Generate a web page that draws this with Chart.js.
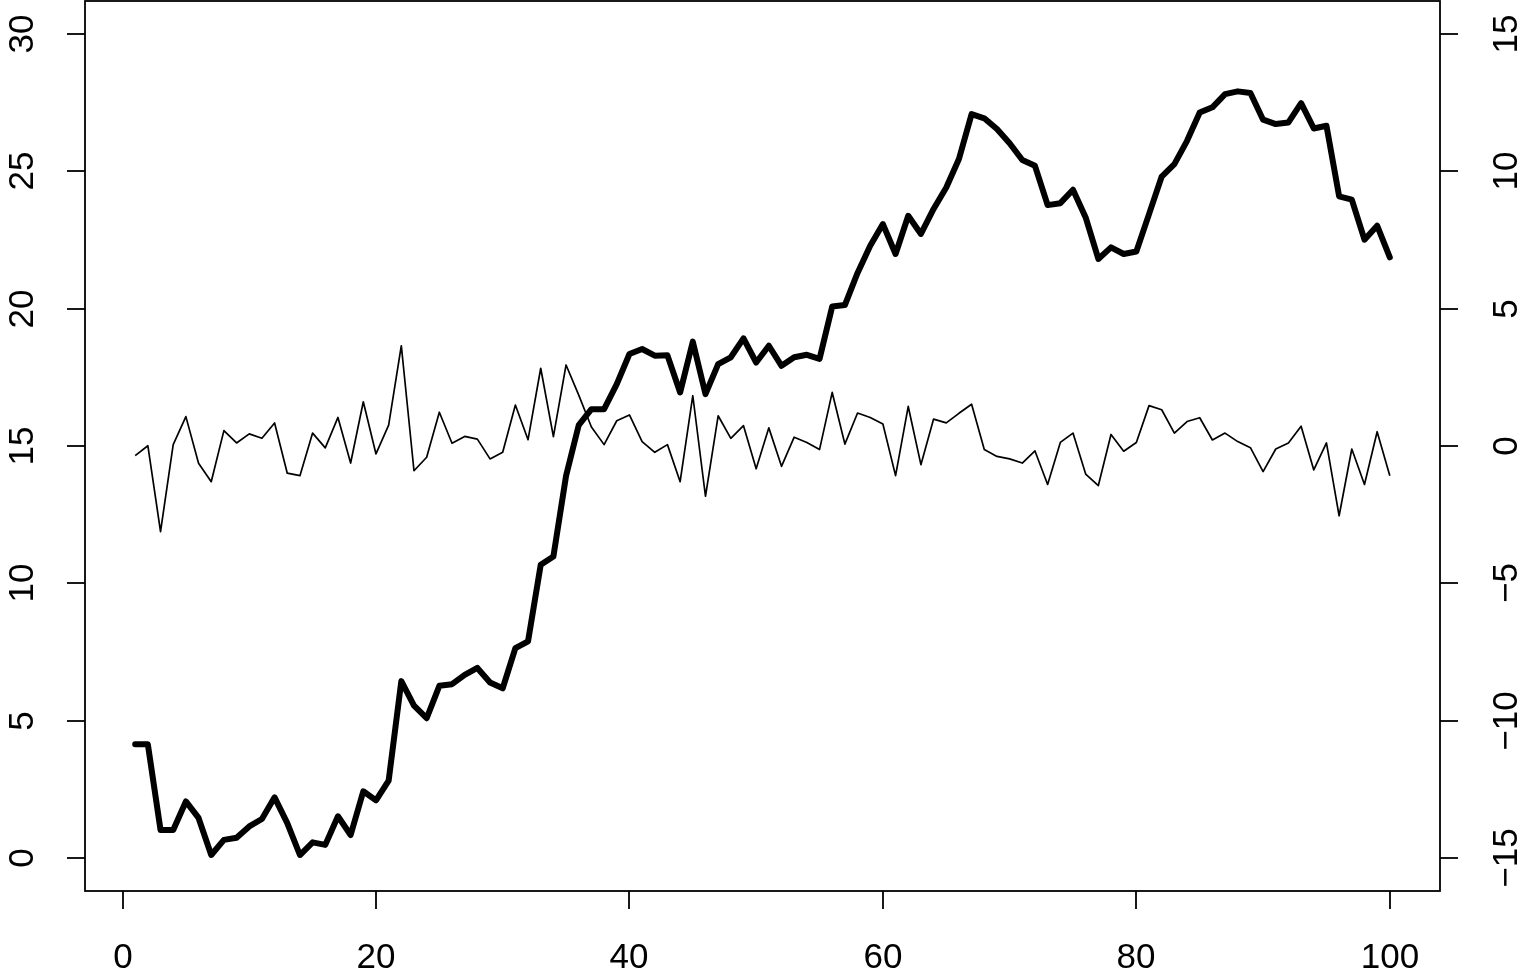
<!DOCTYPE html>
<html lang="en">
<head>
    <meta charset="UTF-8">
    <title>Two series, two axes</title>
    <script src="https://cdn.jsdelivr.net/npm/chart.js"></script>
    <style>
        html, body { margin: 0; padding: 0; background: #fff; }
        canvas { display: block; }
    </style>
</head>
<body>
    <canvas id="plot" width="1522" height="975"></canvas>

    <script>
        // x positions of the observations
        const idx = Array.from({ length: 100 }, (_, i) => i + 1);

        // thick series, read against the left axis
        const thickValues = [
            4.14, 4.14, 1.02, 1.02, 2.06, 1.46, 0.11, 0.66, 0.74, 1.15,
            1.42, 2.21, 1.27, 0.11, 0.57, 0.48, 1.52, 0.84, 2.43, 2.10,
            2.82, 6.44, 5.55, 5.09, 6.27, 6.33, 6.67, 6.92, 6.39, 6.18,
            7.64, 7.89, 10.68, 10.98, 13.92, 15.76, 16.34, 16.34, 17.25, 18.35,
            18.53, 18.29, 18.30, 16.95, 18.80, 16.89, 17.98, 18.23, 18.92, 18.04,
            18.65, 17.92, 18.23, 18.32, 18.17, 20.08, 20.13, 21.30, 22.29, 23.08,
            21.99, 23.38, 22.72, 23.63, 24.41, 25.45, 27.08, 26.93, 26.54, 26.02,
            25.41, 25.20, 23.77, 23.84, 24.33, 23.32, 21.81, 22.23, 21.99, 22.08,
            23.44, 24.81, 25.26, 26.11, 27.14, 27.33, 27.81, 27.91, 27.85, 26.88,
            26.72, 26.78, 27.48, 26.56, 26.66, 24.09, 23.97, 22.51, 23.02, 21.87
        ];

        // thin series, read against the right axis
        const thinValues = [
            -0.35, 0.01, -3.12, 0.05, 1.07, -0.63, -1.30, 0.56, 0.11, 0.44,
            0.28, 0.84, -0.99, -1.08, 0.47, -0.07, 1.04, -0.62, 1.61, -0.29,
            0.76, 3.65, -0.90, -0.41, 1.23, 0.10, 0.35, 0.25, -0.47, -0.23,
            1.49, 0.23, 2.83, 0.34, 2.95, 1.85, 0.69, 0.05, 0.92, 1.13,
            0.16, -0.23, 0.05, -1.30, 1.83, -1.83, 1.10, 0.28, 0.74, -0.83,
            0.66, -0.74, 0.32, 0.13, -0.13, 1.95, 0.07, 1.20, 1.04, 0.80,
            -1.08, 1.44, -0.68, 0.98, 0.84, 1.19, 1.52, -0.13, -0.38, -0.47,
            -0.62, -0.18, -1.40, 0.13, 0.47, -1.02, -1.44, 0.42, -0.19, 0.13,
            1.47, 1.32, 0.47, 0.89, 1.03, 0.22, 0.47, 0.16, -0.06, -0.93,
            -0.11, 0.11, 0.72, -0.87, 0.11, -2.54, -0.11, -1.40, 0.52, -1.08
        ];

        // tick labels
        const xTicks = [0, 20, 40, 60, 80, 100];
        const leftTicks = [0, 5, 10, 15, 20, 25, 30];
        const rightTicks = [-15, -10, -5, 0, 5, 10, 15];

        const FONT = '35px "Liberation Sans", Arial, sans-serif';
        const TICK_LEN = 18;

        // R style frame, tick marks and labels drawn from the chart's scales
        const rAxes = {
            id: 'rAxes',
            afterDraw(chart) {
                const c = chart.ctx;
                const a = chart.chartArea;
                const sx = chart.scales.x;
                const sl = chart.scales.y;
                const sr = chart.scales.y2;

                c.save();
                c.strokeStyle = '#000';
                c.fillStyle = '#000';
                c.lineWidth = 1.8;
                c.strokeRect(a.left, a.top, a.right - a.left, a.bottom - a.top);
                c.font = FONT;

                // bottom axis
                c.textAlign = 'center';
                c.textBaseline = 'alphabetic';
                xTicks.forEach(v => {
                    const px = Math.round(sx.getPixelForValue(v));
                    c.beginPath();
                    c.moveTo(px, a.bottom);
                    c.lineTo(px, a.bottom + TICK_LEN);
                    c.stroke();
                    c.fillText(String(v), px, 968);
                });

                // left axis
                leftTicks.forEach(v => {
                    const py = Math.round(sl.getPixelForValue(v));
                    c.beginPath();
                    c.moveTo(a.left, py);
                    c.lineTo(a.left - TICK_LEN, py);
                    c.stroke();
                    c.save();
                    c.translate(33, py);
                    c.rotate(-Math.PI / 2);
                    c.fillText(String(v), 0, 0);
                    c.restore();
                });

                // right axis
                rightTicks.forEach(v => {
                    const py = Math.round(sr.getPixelForValue(v));
                    c.beginPath();
                    c.moveTo(a.right, py);
                    c.lineTo(a.right + TICK_LEN, py);
                    c.stroke();
                    c.save();
                    c.translate(1517, py);
                    c.rotate(-Math.PI / 2);
                    c.fillText(String(v).replace('-', '\u2212'), 0, 0);
                    c.restore();
                });
                c.restore();
            }
        };

        const ctx = document.getElementById('plot').getContext('2d');
        new Chart(ctx, {
            type: 'line',
            data: {
                datasets: [{
                    label: 'thick',
                    data: idx.map((x, i) => ({ x: x, y: thickValues[i] })),
                    yAxisID: 'y',
                    borderColor: '#000',
                    borderWidth: 6,
                    borderCapStyle: 'round',
                    borderJoinStyle: 'round',
                    pointRadius: 0,
                    tension: 0,
                    fill: false
                }, {
                    label: 'thin',
                    data: idx.map((x, i) => ({ x: x, y: thinValues[i] })),
                    yAxisID: 'y2',
                    borderColor: '#000',
                    borderWidth: 1.7,
                    borderJoinStyle: 'round',
                    pointRadius: 0,
                    tension: 0,
                    fill: false
                }]
            },
            options: {
                responsive: false,
                animation: false,
                layout: { padding: { left: 85, top: 1, right: 82, bottom: 84 } },
                plugins: { legend: { display: false }, tooltip: { enabled: false } },
                scales: {
                    x: { type: 'linear', min: -2.96, max: 103.96, display: false },
                    y: { type: 'linear', min: -1.2, max: 31.2, display: false },
                    y2: { type: 'linear', min: -16.2, max: 16.2, display: false, position: 'right' }
                }
            },
            plugins: [rAxes]
        });
    </script>
</body>
</html>
